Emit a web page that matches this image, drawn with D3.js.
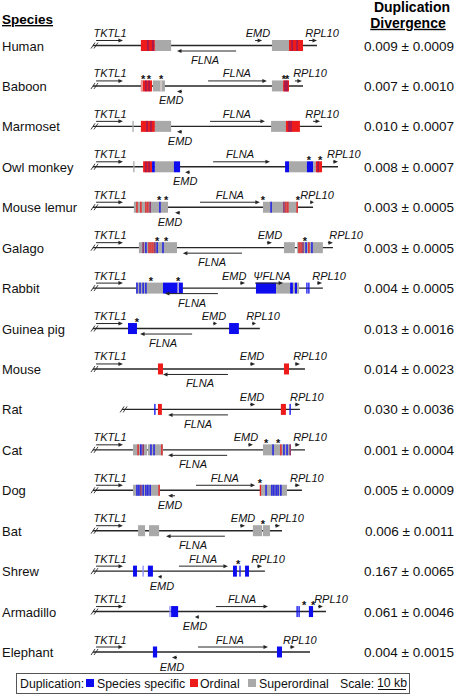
<!DOCTYPE html>
<html><head><meta charset="utf-8">
<script src="https://cdn.jsdelivr.net/npm/d3@7"></script>
<style>body{margin:0;background:#fff}svg{display:block}text{font-family:"Liberation Sans",Arial,sans-serif}</style>
</head><body><svg id="c" width="456" height="696"></svg>
<script>
const species = ["Human","Baboon","Marmoset","Owl monkey","Mouse lemur","Galago","Rabbit","Guinea pig","Mouse","Rat","Cat","Dog","Bat","Shrew","Armadillo","Elephant"];
const divergence = ["0.009 ± 0.0009","0.007 ± 0.0010","0.010 ± 0.0007","0.008 ± 0.0007","0.003 ± 0.0005","0.003 ± 0.0005","0.004 ± 0.0005","0.013 ± 0.0016","0.014 ± 0.0023","0.030 ± 0.0036","0.001 ± 0.0004","0.005 ± 0.0009","0.006 ± 0.0011","0.167 ± 0.0065","0.061 ± 0.0046","0.004 ± 0.0015"];
// genomic span of each drawn locus (kb)
const lineSpan = [[0,80],[0,75],[0,81.8],[0,87.5],[0,78.6],[0,85.7],[0,82.1],[0,59.6],[0,75.7],[10.4,73.9],[0,75.7],[0,74.6],[0,67.5],[0,61.4],[0,83.2],[0,77.5]];
// duplication blocks [start kb, end kb, type]  b=species specific, r=ordinal, g=superordinal
const segments = [
  [[17.1,22.1,"r"],[22.1,27.9,"g"],[63.9,70.0,"g"],[70.0,75.0,"r"]],
  [[17.1,21.1,"r"],[21.4,25.7,"g"],[63.9,67.9,"g"],[67.9,70.0,"r"]],
  [[17.1,22.1,"r"],[22.1,27.9,"g"],[63.6,68.9,"g"],[68.9,73.9,"r"]],
  [[17.9,21.1,"r"],[21.1,22.1,"b"],[22.1,28.9,"g"],[28.9,31.1,"b"],[68.6,70.0,"b"],[70.0,76.4,"g"],[76.4,78.6,"b"],[78.6,79.6,"g"],[79.6,81.8,"r"]],
  [[14.6,26.8,"g"],[60.7,73.2,"g"]],
  [[16.4,30.0,"g"],[68.2,72.1,"g"],[72.9,82.1,"g"]],
  [[15.4,25.0,"g"],[25.0,32.1,"b"],[58.2,65.4,"b"],[65.4,70.4,"g"],[70.4,71.4,"b"],[71.4,72.1,"g"],[72.1,72.9,"b"],[72.9,73.6,"g"]],
  [[12.5,15.7,"b"],[48.6,52.1,"b"]],
  [[23.2,25.0,"r"],[68.2,70.0,"r"]],
  [[23.2,24.6,"r"],[67.1,68.9,"r"]],
  [[14.3,19.3,"g"],[19.6,25.0,"g"],[60.7,70.7,"g"]],
  [[14.3,23.9,"g"],[59.6,69.3,"g"]],
  [[16.1,18.6,"g"],[20.0,23.6,"g"],[57.1,60.4,"g"],[60.7,63.2,"g"]],
  [[14.3,15.7,"b"],[19.6,21.4,"b"],[50.0,51.4,"b"],[54.3,55.7,"b"]],
  [[27.9,30.4,"b"],[77.1,78.6,"b"]],
  [[21.4,22.9,"b"],[65.7,67.5,"b"]]
];
// thin stripes inside/near blocks [kb, type]
const stripes = [
  [[19.6,"p"],[21.4,"p"],[71.1,"p"],[72.9,"p"]],
  [[17.5,"w"],[18.9,"p"],[20.0,"p"],[24.3,"w"],[68.6,"p"],[69.3,"p"]],
  [[14.3,"g"],[19.3,"p"],[20.7,"p"],[70.0,"p"],[70.7,"p"]],
  [[14.6,"g"],[18.9,"p"],[20.0,"p"],[80.4,"p"]],
  [[15.7,"r"],[17.1,"r"],[18.9,"r"],[19.6,"r"],[20.4,"p"],[23.9,"b"],[63.6,"b"],[68.2,"p"],[68.9,"r"],[69.6,"r"],[72.9,"r"]],
  [[17.9,"p"],[18.9,"b"],[20.0,"r"],[20.7,"r"],[21.4,"r"],[22.1,"p"],[22.9,"b"],[25.0,"b"],[73.6,"r"],[74.3,"r"],[75.0,"p"],[76.1,"b"],[77.1,"r"],[78.2,"b"]],
  [[15.7,"b"],[16.8,"b"],[17.9,"b"],[18.9,"b"],[30.4,"w"],[76.4,"b"],[77.1,"b"]],
  [],
  [],
  [[22.1,"b"],[70.4,"b"]],
  [[16.1,"r"],[17.1,"b"],[17.9,"p"],[20.7,"b"],[21.8,"b"],[24.6,"r"],[64.3,"b"],[67.1,"r"],[68.2,"b"],[69.3,"b"],[70.4,"p"]],
  [[15.7,"b"],[16.4,"b"],[17.1,"p"],[17.9,"b"],[18.9,"b"],[19.6,"b"],[20.4,"b"],[23.6,"r"],[59.8,"r"],[61.8,"b"],[63.9,"b"],[64.6,"b"],[65.4,"b"],[66.1,"b"],[67.1,"b"]],
  [],
  [[17.9,"lb"],[52.5,"b"]],
  [[27.5,"lb"],[72.9,"b"],[73.6,"b"]],
  []
];
const stars = [[],[17.9,20.0,24.3,68.2,69.3],[],[77.1,81.1],[23.6,26.1,60.7,73.2],[22.9,26.1,75.7],[20.7,30.4],[15.7],[],[],[61.8,66.1],[59.6],[60.7],[51.8],[75.4,78.6],[]];
// genes [name, start kb, end kb, side (a above / b below), direction, label anchor kb]
const genes = [
  [["TKTL1",1.1,10.7,"a",1,6.1],["EMD",57.9,60.4,"a",1,58.9],["RPL10",77.1,80.0,"a",1,81.8],["FLNA",30.0,51.1,"b",-1,40.0]],
  [["TKTL1",1.1,10.7,"a",1,6.1],["FLNA",41.1,62.1,"a",1,51.4],["RPL10",72.1,74.6,"a",1,77.5],["EMD",30.0,31.8,"b",-1,27.9]],
  [["TKTL1",1.1,10.7,"a",1,6.1],["FLNA",41.8,61.4,"a",1,51.4],["RPL10",78.6,81.1,"a",1,81.8],["EMD",30.0,31.8,"b",-1,31.1]],
  [["TKTL1",1.1,10.7,"a",1,6.1],["FLNA",42.9,63.2,"a",1,52.5],["RPL10",85.7,87.5,"a",1,89.6],["EMD",32.9,34.6,"b",-1,32.9]],
  [["TKTL1",1.1,10.7,"a",1,6.1],["FLNA",38.2,59.6,"a",1,48.9],["RPL10",77.5,78.9,"a",1,80.0],["EMD",29.3,31.1,"b",-1,27.5]],
  [["TKTL1",1.1,10.7,"a",1,6.1],["EMD",62.1,63.9,"a",1,63.2],["RPL10",83.9,85.7,"a",1,90.4],["FLNA",32.1,53.2,"b",-1,42.5]],
  [["TKTL1",1.1,10.7,"a",1,6.1],["EMD",52.5,54.3,"a",1,50.4],["ΨFLNA",57.9,67.9,"a",1,63.9],["RPL10",80.0,81.8,"a",1,84.3],["FLNA",25.7,44.6,"b",-1,35.4]],
  [["TKTL1",1.1,10.7,"a",1,6.1],["EMD",42.9,44.3,"a",1,43.2],["RPL10",56.8,58.2,"a",1,60.7],["FLNA",16.8,35.4,"b",-1,25.0]],
  [["TKTL1",1.1,10.7,"a",1,6.1],["EMD",56.1,57.9,"a",1,56.8],["RPL10",72.1,73.9,"a",1,77.5],["FLNA",25.0,48.2,"b",-1,38.2]],
  [["EMD",56.1,57.9,"a",1,56.8],["RPL10",72.1,73.9,"a",1,76.4],["FLNA",26.8,48.2,"b",-1,37.5]],
  [["TKTL1",1.1,10.7,"a",1,6.1],["EMD",55.4,57.1,"a",1,54.6],["RPL10",72.1,73.9,"a",1,77.5],["FLNA",26.8,47.9,"b",-1,35.7]],
  [["TKTL1",1.1,10.7,"a",1,6.1],["FLNA",36.8,57.9,"a",1,47.1],["RPL10",72.1,73.9,"a",1,76.4],["EMD",26.8,29.3,"b",-1,27.5]],
  [["TKTL1",1.1,10.7,"a",1,6.1],["EMD",52.5,54.3,"a",1,53.6],["RPL10",65.0,66.8,"a",1,69.3],["FLNA",26.1,47.1,"b",-1,35.7]],
  [["TKTL1",1.1,10.7,"a",1,6.1],["FLNA",30.7,48.2,"a",1,39.3],["RPL10",58.6,60.4,"a",1,62.5],["EMD",23.2,24.6,"b",-1,24.6]],
  [["TKTL1",1.1,10.7,"a",1,6.1],["FLNA",43.9,62.5,"a",1,53.2],["RPL10",80.4,82.1,"a",1,85.0],["EMD",36.4,37.9,"b",-1,36.4]],
  [["TKTL1",1.1,10.7,"a",1,6.1],["FLNA",37.5,62.5,"a",1,48.9],["RPL10",70.4,72.1,"a",1,73.9],["EMD",28.2,30.0,"b",-1,28.2]]
];
const legendItems = [["b","Species specific"],["r","Ordinal"],["g","Superordinal"]];
const scaleKb = 10;

const colors = {b:"#0c0cef", r:"#ee1b1b", g:"#a9a9a9", p:"#8c1a62", w:"#e6d6d6", lb:"#8c8cff"};
const svg = d3.select("#c");
const x = d3.scaleLinear().domain([0,100]).range([93,373]);
const y = d3.scalePoint().domain(species).range([45.5,652]);
const H = 5.5, ink = "#262626";

// headers
svg.append("text").attr("x",2).attr("y",24).attr("font-size",13.5).attr("font-weight","bold").attr("text-decoration","underline").text("Species");
svg.append("text").attr("x",412).attr("y",12).attr("text-anchor","middle").attr("font-size",14).attr("font-weight","bold").text("Duplication");
svg.append("text").attr("x",408).attr("y",27.8).attr("text-anchor","middle").attr("font-size",14).attr("font-weight","bold").attr("text-decoration","underline").text("Divergence");

function arrow(g, x1, x2, yy, dir){
  const a = d3.min([4.5, Math.abs(x2-x1)*0.9]);
  const tip = dir>0 ? x2 : x1, tail = dir>0 ? x1 : x2;
  g.append("line").attr("x1",tail).attr("x2",tip - dir*a*0.6).attr("y1",yy).attr("y2",yy).attr("stroke",ink).attr("stroke-width",1);
  g.append("path").attr("d",`M${tip},${yy}L${tip-dir*a},${yy-2}L${tip-dir*a},${yy+2}Z`).attr("fill",ink);
}

species.forEach((sp,i)=>{
  const g = svg.append("g").attr("transform",`translate(0,${y(sp)})`);
  const [s0,s1] = lineSpan[i];
  g.append("line").attr("x1",x(s0)).attr("x2",x(s1)).attr("y1",0).attr("y2",0).attr("stroke",ink).attr("stroke-width",1.4);
  [0,3].forEach(o=>{
    g.append("line").attr("x1",x(s0)-2+o).attr("y1",3).attr("x2",x(s0)+2+o).attr("y2",-3).attr("stroke",ink).attr("stroke-width",0.9);
  });
  g.selectAll("rect.seg").data(segments[i]).join("rect").attr("class","seg")
    .attr("x",d=>x(d[0])).attr("width",d=>x(d[1])-x(d[0])).attr("y",-H).attr("height",2*H).attr("fill",d=>colors[d[2]]);
  g.selectAll("rect.str").data(stripes[i]).join("rect").attr("class","str")
    .attr("x",d=>x(d[0])-0.65).attr("width",1.3).attr("y",-H).attr("height",2*H).attr("fill",d=>colors[d[1]]);
  g.selectAll("text.star").data(stars[i]).join("text").attr("class","star")
    .attr("x",d=>x(d)).attr("y",-3).attr("text-anchor","middle").attr("font-size",11).attr("font-weight","bold").attr("fill","#111").text("*");
  genes[i].forEach(([name,a,b,side,dir,lx])=>{
    const ay = side==="a" ? -5 : 5.5;
    arrow(g, x(a), x(b), ay, dir);
    g.append("text").attr("x",x(lx)).attr("y",side==="a" ? -8.5 : 18.5).attr("text-anchor","middle")
      .attr("font-size",11).attr("font-style","italic").attr("fill","#111").text(name);
  });
  svg.append("text").attr("x",2).attr("y",y(sp)+5).attr("font-size",13).attr("fill","#111").text(sp);
  svg.append("text").attr("x",454).attr("y",y(sp)+5).attr("text-anchor","end").attr("font-size",13.5).attr("fill","#111").text(divergence[i]);
});

// legend
const lg = svg.append("g");
lg.append("rect").attr("x",16.5).attr("y",673.5).attr("width",393).attr("height",20).attr("fill","none").attr("stroke","#555").attr("stroke-width",1);
lg.append("text").attr("x",20).attr("y",688).attr("font-size",12.3).attr("fill","#111").text("Duplication:");
const pos = [[86,97],[190,200],[248,259]];
legendItems.forEach(([k,label],j)=>{
  lg.append("rect").attr("x",pos[j][0]).attr("y",679).attr("width",8).attr("height",8).attr("fill",colors[k]);
  lg.append("text").attr("x",pos[j][1]).attr("y",688).attr("font-size",12.3).attr("fill","#111").text(label);
});
lg.append("text").attr("x",340).attr("y",688).attr("font-size",12.3).attr("fill","#111").text("Scale:");
lg.append("text").attr("x",392).attr("y",687).attr("text-anchor","middle").attr("font-size",12.3).attr("fill","#111").text(scaleKb+" kb");
lg.append("line").attr("x1",378).attr("x2",378 + x(scaleKb)-x(0)).attr("y1",689.5).attr("y2",689.5).attr("stroke","#111").attr("stroke-width",1);
</script></body></html>
